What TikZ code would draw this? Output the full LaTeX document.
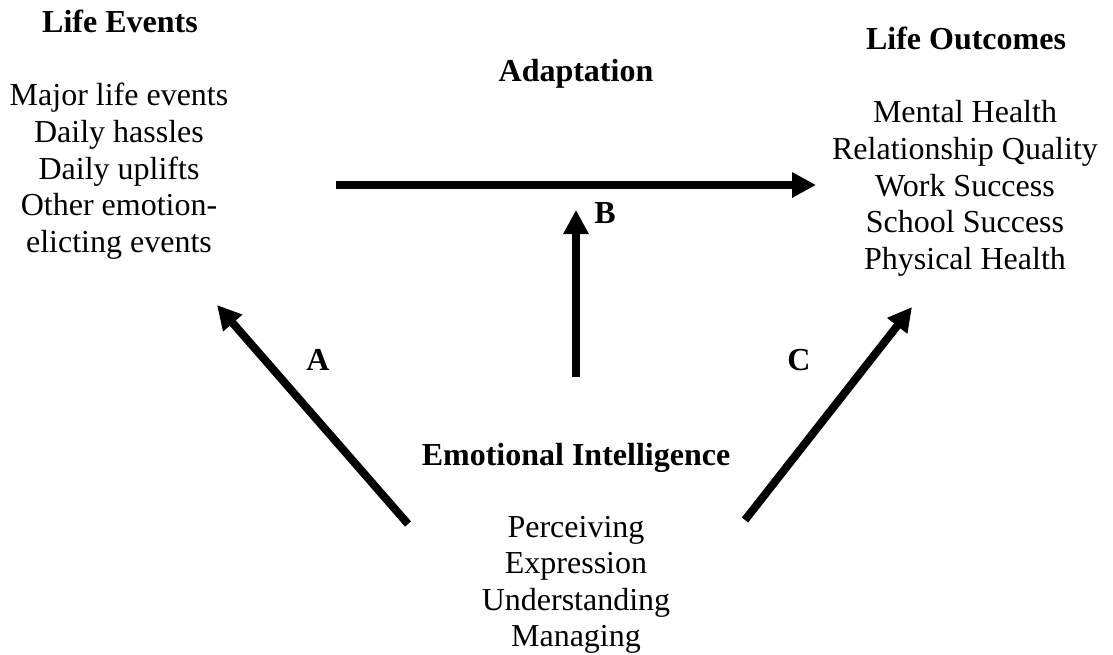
\documentclass[tikz,border=0pt]{standalone}
\usepackage{fontspec}
\setmainfont{Liberation Serif}
\usetikzlibrary{arrows.meta}
\tikzset{
  txt/.style={inner sep=0pt, anchor=base, font=\fontsize{32}{36.6}\selectfont},
  head/.style={txt, font=\fontsize{32}{36.6}\selectfont\bfseries},
  bigarrow/.style={line width=8pt, -{Triangle[length=24pt,width=24pt]}},
}
\begin{document}
\begin{tikzpicture}[x=1pt,y=-1pt]
\useasboundingbox (0,0) rectangle (1113,655);
% Life Events
\node[head] (leh) at (120,33) {Life Events};
\node[txt] (le1) at (119,106) {Major life events};
\node[txt] (le2) at (119,142.6) {Daily hassles};
\node[txt] (le3) at (119,179.2) {Daily uplifts};
\node[txt] (le4) at (119,215.8) {Other emotion-};
\node[txt] (le5) at (119,252.4) {elicting events};
% Adaptation
\node[head] (adh) at (576,82) {Adaptation};
% Life Outcomes
\node[head] (loh) at (966,50) {Life Outcomes};
\node[txt] (lo1) at (965,123) {Mental Health};
\node[txt] (lo2) at (965,159.6) {Relationship Quality};
\node[txt] (lo3) at (965,196.2) {Work Success};
\node[txt] (lo4) at (965,232.8) {School Success};
\node[txt] (lo5) at (965,269.4) {Physical Health};
% Emotional Intelligence
\node[head] (eih) at (576,465) {Emotional Intelligence};
\node[txt] (ei1) at (576,537) {Perceiving};
\node[txt] (ei2) at (576,573.6) {Expression};
\node[txt] (ei3) at (576,610.2) {Understanding};
\node[txt] (ei4) at (576,646.8) {Managing};
% labels
\node[head] (la) at (318,370) {A};
\node[head] (lb) at (605,223) {B};
\node[head] (lc) at (799,370) {C};
% arrow ends
\coordinate (hs) at (336,185);
\coordinate (he) at (816,185);
\coordinate (bs) at (576,377);
\coordinate (be) at (576,210);
\coordinate (as) at (408,524);
\coordinate (ae) at (217,305);
\coordinate (cs) at (745,520);
\coordinate (ce) at (912,307);
\draw[bigarrow] (hs) -- (he);
\draw[bigarrow] (bs) -- (be);
\draw[bigarrow] (as) -- (ae);
\draw[bigarrow] (cs) -- (ce);
\end{tikzpicture}
\end{document}
